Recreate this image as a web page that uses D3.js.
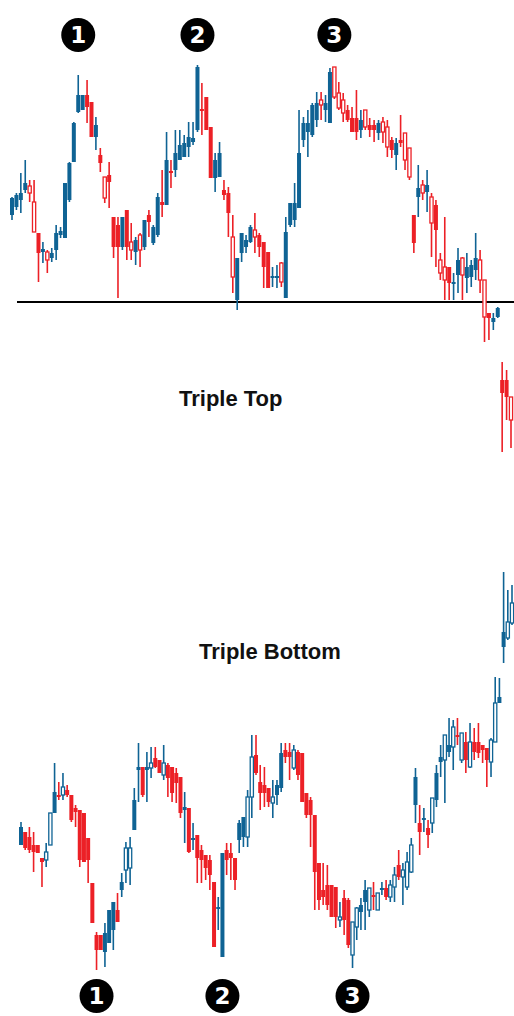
<!DOCTYPE html>
<html>
<head>
<meta charset="utf-8">
<script src="https://cdn.jsdelivr.net/npm/d3@7"></script>
<style>
  body { margin: 0; background: #fff; }
  svg { display: block; }
</style>
</head>
<body>
<div id="chart"></div>
<script>
// Candles as [open, high, low, close]
const topCandles = [
  [285,303,280,302],[293,307,290,305],[300,327,287,307],[310,340,307,317],[314,320,298,307],
  [298,320,268,268],[267,267,218,247],[248,258,237,251],[248,250,227,240],[242,252,238,247],
  [250,275,240,267],[265,273,262,269],[262,317,262,317],[300,338,298,337],[338,378,338,377],
  [388,425,387,405],[390,405,390,405],[405,420,377,393],[398,398,363,363],[363,383,350,375],
  [345,352,328,337],[323,323,297,302],[325,338,292,318],[283,283,242,253],[275,283,202,253],
  [253,283,250,283],[290,290,240,253],[258,277,240,250],[248,263,235,260],[265,267,233,250],
  [253,280,250,280],[285,290,263,278],[257,275,255,273],[265,307,263,303],[298,330,283,295],
  [295,368,295,340],[329,340,312,327],[330,370,323,347],[340,370,340,355],[343,365,343,357],
  [353,378,343,363],[358,378,355,362],[370,435,368,433],[391,417,365,389],[403,403,370,370],
  [373,373,322,322],[322,347,308,340],[323,358,323,347],[310,320,300,305],[307,313,263,287],
  [263,285,207,223],[200,242,190,242],[247,267,238,267],[253,265,247,260],[258,275,257,273],
  [270,287,247,263],[265,267,243,253],[258,258,212,233],[248,248,212,212],[222,233,213,224],
  [222,235,212,224],[237,238,213,218],[202,283,202,268],[275,297,273,297],[280,317,273,297],
  [292,390,292,347],[360,383,353,377],[368,390,343,377],[365,397,363,395],[380,408,373,397],
  [400,408,380,395],[390,405,378,397],[377,432,377,428],[433,433,401,403],[407,418,390,392],
  [400,407,378,387],[390,395,378,380],[382,393,368,368],[382,410,360,368],[370,390,362,380],
  [390,390,370,373],[375,382,363,370],[375,380,358,370],[367,380,360,377],[378,383,357,368],
  [373,380,343,353],[360,363,342,350],[345,362,330,357],[360,385,353,357],[367,367,330,340],
  [352,352,320,323],[285,285,247,257],[303,335,283,312],[315,320,300,307],[308,330,288,315],
  [303,307,243,277],[295,300,233,270],[240,247,220,227],[233,283,200,220],[233,233,200,217],
  [216,227,200,218],[225,252,207,240],[242,243,200,225],[222,247,207,233],[223,240,213,235],
  [230,267,220,242],[240,250,207,220],[220,220,158,183],[187,187,160,182],[178,187,170,182],
  [183,193,182,192],[120,138,48,107],[120,130,80,103],[103,103,52,80]
];
const topHollow = [4,5,8,21,27,29,50,55,61,70,73,74,75,80,84,85,89,90,93,95,97,98,102,106,107,113];
const supportLevel = 198;

const bottomCandles = [
  [155,178,155,173],[168,168,150,152],[163,173,147,150],[155,168,128,148],[155,155,147,147],
  [142,142,113,138],[140,157,133,148],[155,187,155,187],[187,237,187,208],[205,218,200,203],
  [205,227,200,213],[210,215,203,205],[205,205,178,180],[192,195,173,188],[190,190,133,140],
  [187,187,138,138],[162,162,117,140],[117,117,77,77],[65,68,30,50],[65,65,50,50],
  [48,77,33,67],[57,90,57,90],[70,98,50,98],[90,107,78,78],[110,127,103,118],
  [130,158,117,152],[132,163,115,152],[170,212,170,200],[230,257,198,233],[233,233,203,205],
  [230,248,198,233],[232,253,222,237],[242,253,232,233],[240,240,227,227],[225,255,220,237],
  [235,237,203,222],[233,233,198,207],[227,232,197,217],[223,223,182,187],[190,208,157,193],
  [192,192,147,148],[160,177,150,162],[165,165,117,142],[150,155,117,140],[145,145,120,132],
  [140,145,110,125],[118,118,53,53],[91,103,70,93],[43,147,43,147],[150,157,125,140],
  [147,157,120,142],[142,142,110,120],[160,180,147,177],[163,183,153,183],[163,210,153,203],
  [203,265,182,243],[245,265,225,227],[218,235,190,207],[215,233,193,207],[212,212,193,198],
  [197,220,182,203],[205,220,195,215],[212,257,208,247],[250,257,237,243],[248,257,220,243],
  [232,255,230,250],[248,250,220,225],[247,247,198,198],[207,207,182,185],[200,203,153,185],
  [185,185,90,128],[137,137,90,100],[110,137,95,103],[115,135,90,95],[115,115,83,83],
  [113,113,72,83],[80,98,73,83],[102,110,65,80],[100,102,52,55],[45,78,32,78],
  [73,93,60,92],[88,102,70,95],[98,120,70,110],[90,112,83,112],[105,118,90,103],
  [90,107,90,107],[110,118,105,112],[112,120,100,103],[103,120,98,115],[113,133,98,125],
  [135,150,120,123],[123,137,95,130],[113,148,110,138],[128,162,127,155],[195,232,177,223],
  [177,195,145,168],[180,192,168,182],[172,180,152,165],[177,202,167,202],[200,235,193,227],
  [238,255,223,243],[240,265,197,265],[248,282,243,255],[253,280,230,273],[265,282,255,263],
  [240,267,237,267],[258,268,227,240],[233,277,232,258],[258,272,240,248],[258,277,242,247],
  [255,255,237,250],[252,252,213,240],[238,262,223,260],[258,323,258,297],[297,322,297,303],
  [353,428,337,368],[362,410,360,378],[377,415,375,397]
];
const bottomHollow = [6,7,10,25,26,31,34,54,55,60,65,76,79,80,83,85,88,89,91,92,93,98,101,103,105,107,112,113,116,117];

// Numbered markers: which candle each one sits over
const topMarkers = [{ label: '1', candle: 15 }, { label: '2', candle: 42 }, { label: '3', candle: 73 }];
const bottomMarkers = [{ label: '1', candle: 18 }, { label: '2', candle: 48 }, { label: '3', candle: 79 }];
const titles = ['Triple Top', 'Triple Bottom'];

const width = 514;
const height = 1016;
const blue = '#0f6394';
const red = '#ec2026';

const svg = d3.select('#chart')
  .append('svg')
    .attr('width', width)
    .attr('height', height)
    .attr('viewBox', [0, 0, width, height]);

// Price scales (one per panel)
const yTop = d3.scaleLinear().domain([0, 500]).range([500, 0]);
const yBottom = d3.scaleLinear().domain([0, 1000]).range([1000, 0]);
const xTop = d3.scaleLinear().domain([0, topCandles.length - 1]).range([12, 511]);
const xBottom = d3.scaleLinear().domain([0, bottomCandles.length - 1]).range([21, 512]);

const drawCandles = (data, hollow, x, y, cls) => {
  const rows = data.map((d, i) => ({
    i, open: d[0], high: d[1], low: d[2], close: d[3],
    up: d[3] >= d[0],
    hollow: hollow.includes(i)
  }));

  const g = svg.append('g').attr('class', cls);
  const candle = g.selectAll('.candle')
    .data(rows)
    .join('g')
      .attr('class', 'candle')
      .attr('transform', d => `translate(${x(d.i)},0)`);

  candle.append('line')
      .attr('x1', 0)
      .attr('x2', 0)
      .attr('y1', d => y(d.high))
      .attr('y2', d => y(d.low))
      .attr('stroke', d => d.up ? blue : red)
      .attr('stroke-width', 1.6);

  candle.append('rect')
      .attr('x', d => d.hollow ? -1.6 : -2)
      .attr('width', d => d.hollow ? 3.2 : 4)
      .attr('y', d => y(Math.max(d.open, d.close)))
      .attr('height', d => Math.max(1.5, Math.abs(y(d.open) - y(d.close))))
      .attr('fill', d => d.hollow ? '#fff' : (d.up ? blue : red))
      .attr('stroke', d => d.hollow ? (d.up ? blue : red) : 'none')
      .attr('stroke-width', 1.3);
};

// Support line under the triple top
svg.append('line')
    .attr('x1', 17)
    .attr('x2', width)
    .attr('y1', yTop(supportLevel))
    .attr('y2', yTop(supportLevel))
    .attr('stroke', '#000')
    .attr('stroke-width', 1.8);

drawCandles(topCandles, topHollow, xTop, yTop, 'top-candles');
drawCandles(bottomCandles, bottomHollow, xBottom, yBottom, 'bottom-candles');

// Black numbered circles
const drawMarkers = (markers, x, cy) => {
  const m = svg.append('g')
    .selectAll('.marker')
    .data(markers)
    .join('g')
      .attr('class', 'marker')
      .attr('transform', d => `translate(${x(d.candle)},${cy})`);

  m.append('circle')
      .attr('r', 17)
      .attr('fill', '#000');

  m.append('text')
      .attr('text-anchor', 'middle')
      .attr('dy', '0.36em')
      .attr('fill', '#fff')
      .style('font-family', '"DejaVu Sans", sans-serif')
      .style('font-weight', 'bold')
      .style('font-size', '23px')
      .text(d => d.label);
};

drawMarkers(topMarkers, xTop, 35);
drawMarkers(bottomMarkers, xBottom, 996);

// Titles
svg.selectAll('.title')
  .data(titles)
  .join('text')
    .attr('class', 'title')
    .attr('x', (d, i) => i === 0 ? 179 : 199)
    .attr('y', (d, i) => i === 0 ? 406 : 659)
    .style('font-family', '"Liberation Sans", Arial, sans-serif')
    .style('font-weight', 'bold')
    .style('font-size', '22px')
    .attr('fill', '#111')
    .text(d => d);
</script>
</body>
</html>
